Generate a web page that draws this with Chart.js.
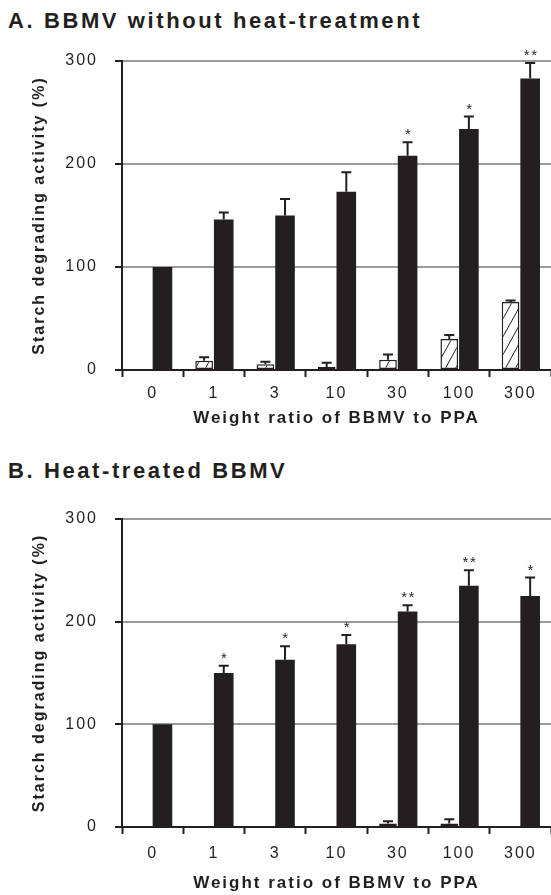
<!DOCTYPE html>
<html>
<head>
<meta charset="utf-8">
<script src="https://cdn.jsdelivr.net/npm/chart.js@4.4.1/dist/chart.umd.min.js"></script>
<style>
    body { margin: 0; background: #fff; }
    #wrap { position: relative; width: 551px; height: 895px; }
    .ttl {
        position: absolute; left: 8px;
        font: bold 22px "Liberation Sans", Arial, sans-serif;
        letter-spacing: 2.6px; color: #231f20; white-space: nowrap;
    }
    .box { position: absolute; left: 0; width: 551px; }
</style>
</head>
<body>
<div id="wrap">
    <div class="ttl" style="top:8px">A. BBMV without heat-treatment</div>
    <div class="box" style="top:0;height:440px"><canvas id="chartA"></canvas></div>
    <div class="ttl" style="top:458px">B. Heat-treated BBMV</div>
    <div class="box" style="top:447px;height:448px"><canvas id="chartB"></canvas></div>
</div>
<script>
// weight ratio categories
var ratios = ["0", "1", "3", "10", "30", "100", "300"];
var yTicks = [0, 100, 200, 300];

// A. BBMV without heat-treatment
var hatchA = [null, 9, 5.5, 3, 10, 30, 66];
var hatchErrA = [0, 3.5, 2.5, 4, 5, 4, 1.5];
var blackA = [100, 146, 150, 173, 208, 234, 283];
var blackErrA = [0, 7, 16, 19, 13, 12, 15];
var starsA = ["", "", "", "", "*", "*", "**"];

// B. Heat-treated BBMV
var hatchB = [null, -1, -1, -1, 3.3, 3.3, -1];
var hatchErrB = [0, 0, 0, 0, 2.2, 4.2, 0];
var blackB = [100, 150, 163, 178, 210, 235, 225];
var blackErrB = [0, 7, 13, 9, 6, 15, 18];
var starsB = ["", "*", "*", "*", "**", "**", "*"];

var ink = "#231f20";
Chart.defaults.font.family = '"Liberation Sans", Arial, sans-serif';
Chart.defaults.color = ink;

function hatchPattern() {
    var c = document.createElement("canvas");
    c.width = 10; c.height = 18;
    var g = c.getContext("2d");
    g.fillStyle = "#fff";
    g.fillRect(0, 0, 10, 18);
    g.strokeStyle = ink;
    g.lineWidth = 1;
    [-10, 0, 10].forEach(function (o) {
        g.beginPath();
        g.moveTo(o, 18);
        g.lineTo(o + 10, 0);
        g.stroke();
    });
    return g.createPattern(c, "repeat");
}

// error bars (upward only) + significance stars
var errPlugin = {
    id: "errBars",
    afterDatasetsDraw: function (chart) {
        var ctx = chart.ctx;
        var ys = chart.scales.y;
        var extra = chart.options.plugins.errBars;
        ctx.save();
        ctx.strokeStyle = ink;
        ctx.lineWidth = 2;
        chart.data.datasets.forEach(function (ds, di) {
            var meta = chart.getDatasetMeta(di);
            var errs = extra.errors[di];
            meta.data.forEach(function (bar, i) {
                var v = ds.data[i];
                if (v === null) return;
                var e = errs[i];
                var top = ys.getPixelForValue(v + e);
                if (e > 0) {
                    var base = ys.getPixelForValue(v);
                    ctx.beginPath();
                    ctx.moveTo(bar.x, base);
                    ctx.lineTo(bar.x, top);
                    ctx.moveTo(bar.x - 5, top);
                    ctx.lineTo(bar.x + 5, top);
                    ctx.stroke();
                }
                if (di === 1 && extra.stars[i]) {
                    ctx.fillStyle = ink;
                    ctx.font = '15px "Liberation Sans", Arial, sans-serif';
                    ctx.letterSpacing = "1.5px";
                    ctx.textAlign = "center";
                    ctx.textBaseline = "alphabetic";
                    ctx.fillText(extra.stars[i], bar.x + 1, top - 3);
                }
            });
        });
        ctx.restore();
    }
};

var spacingPlugin = {
    id: "spacing",
    beforeDraw: function (chart) { chart.ctx.letterSpacing = "2px"; }
};

function makeChart(id, hatch, hatchErr, black, blackErr, stars, topPad, xH, xTickPad, xTitlePad) {
    return new Chart(document.getElementById(id), {
        type: "bar",
        data: {
            labels: ratios,
            datasets: [
                {
                    data: hatch,
                    backgroundColor: hatchPattern(),
                    borderColor: ink,
                    borderWidth: 1.5,
                    borderSkipped: false,
                    barPercentage: 0.9,
                    categoryPercentage: 0.64,
                    clip: false
                },
                {
                    data: black,
                    backgroundColor: ink,
                    borderWidth: 0,
                    barPercentage: 1.0,
                    categoryPercentage: 0.64
                }
            ]
        },
        options: {
            responsive: true,
            maintainAspectRatio: false,
            animation: false,
            layout: { padding: { top: topPad, right: 0, left: 0, bottom: 0 } },
            plugins: {
                legend: { display: false },
                tooltip: { enabled: false },
                errBars: { errors: [hatchErr, blackErr], stars: stars }
            },
            scales: {
                x: {
                    grid: {
                        offset: true,
                        drawOnChartArea: false,
                        tickLength: 7,
                        tickColor: ink,
                        tickWidth: 2
                    },
                    border: { color: ink, width: 2 },
                    ticks: { font: { size: 16 }, padding: xTickPad, color: ink },
                    title: {
                        display: true,
                        text: "Weight ratio of BBMV to PPA",
                        font: { size: 17, weight: "bold" },
                        padding: { top: 0, bottom: xTitlePad },
                        color: ink
                    },
                    afterFit: function (s) { s.height = xH; }
                },
                y: {
                    min: 0,
                    max: 300,
                    afterBuildTicks: function (s) {
                        s.ticks = yTicks.map(function (v) { return { value: v }; });
                    },
                    grid: {
                        color: "#9a9a9a",
                        lineWidth: 2,
                        tickLength: 7,
                        tickColor: ink,
                        tickWidth: 2
                    },
                    border: { color: ink, width: 2 },
                    ticks: { font: { size: 16 }, padding: 17, color: ink },
                    title: {
                        display: true,
                        text: "Starch degrading activity (%)",
                        font: { size: 16, weight: "bold" },
                        padding: { top: 30, bottom: 0 },
                        color: ink
                    },
                    afterFit: function (s) { s.width = 122; }
                }
            }
        },
        plugins: [spacingPlugin, errPlugin]
    });
}

makeChart("chartA", hatchA, hatchErrA, blackA, blackErrA, starsA, 61, 70, 7, 11);
makeChart("chartB", hatchB, hatchErrB, blackB, blackErrB, starsB, 72, 68, 10, 1);
</script>
</body>
</html>
